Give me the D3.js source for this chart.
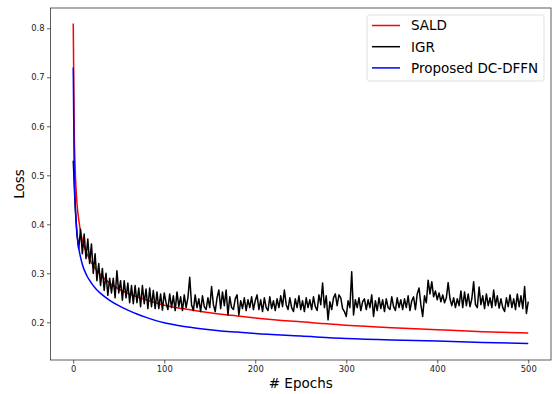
<!DOCTYPE html>
<html>
<head>
<meta charset="utf-8">
<script src="https://cdn.jsdelivr.net/npm/d3@7"></script>
<style>
    body { margin: 0; background: #fff; }
    svg { font-family: "DejaVu Sans", sans-serif; }
</style>
</head>
<body>
<div id="chart"></div>
<script>
"use strict";

let smoothEpochs = [0, 1, 2, 3, 4, 5, 6, 8, 10, 15, 20, 25, 30, 40, 50, 60, 70, 80, 90, 100,
    120, 140, 160, 180, 200, 250, 300, 350, 400, 450, 500];

let saldLoss = [0.81, 0.60, 0.52, 0.475, 0.445, 0.425, 0.41, 0.385, 0.368, 0.34, 0.322, 0.308, 0.297,
    0.28, 0.268, 0.259, 0.252, 0.246, 0.24, 0.235,
    0.228, 0.222, 0.217, 0.213, 0.209, 0.201, 0.194, 0.189, 0.185, 0.181, 0.178];

let dcdffnLoss = [0.72, 0.52, 0.45, 0.41, 0.385, 0.365, 0.352, 0.333, 0.318, 0.295, 0.28, 0.268, 0.259,
    0.245, 0.234, 0.225, 0.217, 0.21, 0.204, 0.199,
    0.192, 0.187, 0.183, 0.18, 0.177, 0.172, 0.167, 0.164, 0.162, 0.159, 0.157];

// IGR loss, one value every 2 epochs (0, 2, 4, ... 500)
let igrLoss = [
    0.53,
    0.44, 0.38, 0.35, 0.39, 0.34, 0.38, 0.33, 0.37, 0.32, 0.36,
    0.30, 0.34, 0.285, 0.32, 0.275, 0.31, 0.265, 0.30, 0.255, 0.29,
    0.26, 0.29, 0.25, 0.305, 0.26, 0.285, 0.245, 0.285, 0.25, 0.28,
    0.24, 0.275, 0.238, 0.275, 0.24, 0.27, 0.232, 0.275, 0.238, 0.268,
    0.228, 0.27, 0.232, 0.265, 0.228, 0.262, 0.228, 0.258, 0.225, 0.26,
    0.240, 0.226, 0.258, 0.230, 0.254, 0.224, 0.262, 0.232, 0.252, 0.224,
    0.256, 0.230, 0.250, 0.292, 0.236, 0.224, 0.256, 0.230, 0.248, 0.222,
    0.254, 0.232, 0.226, 0.250, 0.230, 0.273, 0.236, 0.222, 0.250, 0.266,
    0.228, 0.262, 0.234, 0.266, 0.215, 0.252, 0.230, 0.226, 0.248, 0.256,
    0.215, 0.244, 0.228, 0.250, 0.224, 0.246, 0.230, 0.252, 0.226, 0.244,
    0.256, 0.226, 0.246, 0.222, 0.250, 0.230, 0.224, 0.252, 0.228, 0.244,
    0.224, 0.248, 0.230, 0.254, 0.232, 0.266, 0.236, 0.226, 0.250, 0.230,
    0.222, 0.248, 0.230, 0.254, 0.226, 0.244, 0.222, 0.250, 0.230, 0.246,
    0.226, 0.252, 0.232, 0.224, 0.256, 0.236, 0.280, 0.230, 0.254, 0.205,
    0.242, 0.226, 0.250, 0.258, 0.234, 0.256, 0.250, 0.228, 0.222, 0.212,
    0.244, 0.230, 0.303, 0.215, 0.246, 0.230, 0.250, 0.224, 0.242, 0.248,
    0.226, 0.246, 0.230, 0.256, 0.212, 0.244, 0.224, 0.250, 0.228, 0.246,
    0.222, 0.248, 0.230, 0.226, 0.252, 0.232, 0.224, 0.250, 0.230, 0.246,
    0.226, 0.248, 0.230, 0.254, 0.224, 0.244, 0.252, 0.226, 0.258, 0.270,
    0.236, 0.212, 0.254, 0.240, 0.286, 0.258, 0.283, 0.252, 0.264, 0.246,
    0.260, 0.242, 0.256, 0.240, 0.250, 0.281, 0.248, 0.234, 0.250, 0.230,
    0.248, 0.234, 0.264, 0.230, 0.262, 0.234, 0.258, 0.232, 0.248, 0.283,
    0.236, 0.230, 0.272, 0.236, 0.254, 0.228, 0.258, 0.234, 0.250, 0.230,
    0.266, 0.234, 0.254, 0.229, 0.248, 0.230, 0.222, 0.250, 0.232, 0.256,
    0.230, 0.248, 0.226, 0.258, 0.232, 0.254, 0.228, 0.273, 0.218, 0.242
];
let igrStep = 2;

let xTicks = [0, 100, 200, 300, 400, 500];
let yTicks = [0.2, 0.3, 0.4, 0.5, 0.6, 0.7, 0.8];

let seriesNames = ["SALD", "IGR", "Proposed DC-DFFN"];
let seriesColors = ["#ff0000", "#000000", "#0000ff"];

// Build point lists
let series = [
    smoothEpochs.map((e, i) => [e, saldLoss[i]]),
    igrLoss.map((v, i) => [i * igrStep, v]),
    smoothEpochs.map((e, i) => [e, dcdffnLoss[i]])
];

let width = 552, height = 394;
let margin = { top: 8, left: 50.5, bottom: 34, right: 1 };

let svg = d3.select("#chart").append("svg")
    .attr("width", width)
    .attr("height", height);

let xScale = d3.scaleLinear()
    .domain([-25, 525])
    .range([margin.left, width - margin.right]);

let yScale = d3.scaleLinear()
    .domain([0.1231, 0.8414])
    .range([height - margin.bottom, margin.top]);

// Lines
let line = d3.line()
    .x(d => xScale(d[0]))
    .y(d => yScale(d[1]));

svg.append("g").attr("class", "lines")
    .selectAll("path")
    .data(series)
  .enter().append("path")
    .attr("d", (d, i) => i === 1 ? line.curve(d3.curveLinear)(d) : line.curve(d3.curveMonotoneX)(d))
    .style("fill", "none")
    .style("stroke", (d, i) => seriesColors[i])
    .style("stroke-width", 1.5)
    .style("stroke-linejoin", "round");

// Axes
let xAxis = svg.append("g")
    .attr("transform", "translate(0," + (height - margin.bottom) + ")")
    .call(d3.axisBottom(xScale).tickValues(xTicks).tickSize(3.5).tickPadding(2.5).tickSizeOuter(0));

let yAxis = svg.append("g")
    .attr("transform", "translate(" + margin.left + ",0)")
    .call(d3.axisLeft(yScale).tickValues(yTicks).tickFormat(d3.format(".1f")).tickSize(3.5).tickPadding(2.5).tickSizeOuter(0));

[xAxis, yAxis].forEach(a => {
    a.select(".domain").remove();
    a.selectAll("line").style("stroke", "#333").style("stroke-width", 0.8);
    a.selectAll("text")
        .style("font-family", "DejaVu Sans")
        .style("font-size", "8.4px")
        .style("fill", "#222");
});

// Frame
svg.append("rect")
    .attr("x", margin.left)
    .attr("y", margin.top)
    .attr("width", width - margin.right - margin.left)
    .attr("height", height - margin.bottom - margin.top)
    .style("fill", "none")
    .style("stroke", "#333")
    .style("stroke-width", 0.8);

// Axis labels
svg.append("text")
    .attr("x", (margin.left + width - margin.right) / 2)
    .attr("y", 388)
    .attr("text-anchor", "middle")
    .style("font-size", "13.5px")
    .text("# Epochs");

svg.append("text")
    .attr("transform", "translate(24," + ((margin.top + height - margin.bottom) / 2) + ") rotate(-90)")
    .attr("text-anchor", "middle")
    .style("font-size", "13.5px")
    .text("Loss");

// Legend
let legend = svg.append("g").attr("class", "legend");

legend.append("rect")
    .attr("x", 367)
    .attr("y", 15)
    .attr("width", 177)
    .attr("height", 66)
    .attr("rx", 2.5)
    .style("fill", "#fff")
    .style("fill-opacity", 0.8)
    .style("stroke", "#d8d8d8")
    .style("stroke-width", 0.8);

let rows = legend.selectAll("g.row")
    .data(seriesNames)
  .enter().append("g")
    .attr("class", "row")
    .attr("transform", (d, i) => "translate(0," + (25.5 + i * 21.2) + ")");

rows.append("line")
    .attr("x1", 372)
    .attr("x2", 400)
    .style("stroke", (d, i) => seriesColors[i])
    .style("stroke-width", 1.5);

rows.append("text")
    .attr("x", 411)
    .attr("dy", "0.36em")
    .style("font-size", "13.5px")
    .text(d => d);
</script>
</body>
</html>
